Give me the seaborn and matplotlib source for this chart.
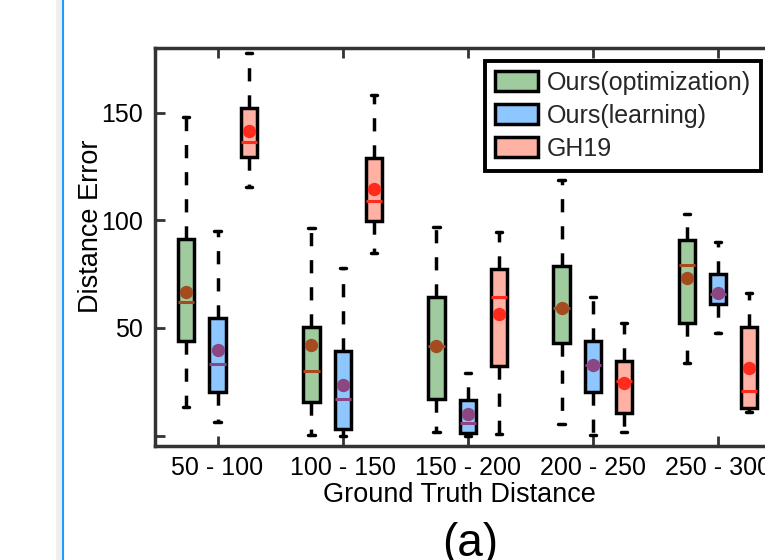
import matplotlib
matplotlib.use("Agg")
import matplotlib.pyplot as plt
from matplotlib.patches import Patch
from matplotlib.lines import Line2D
import pandas as pd
import seaborn as sns

# Distance ranges on the x axis and the compared methods
categories = ["50 - 100", "100 - 150", "150 - 200", "200 - 250", "250 - 300"]
methods = ["Ours(optimization)", "Ours(learning)", "GH19"]

# Box summaries per range: lower whisker, Q1, median, Q3, upper whisker
opt_summary = [
    [13.2, 44.1, 62.2, 91.3, 147.8],
    [0.3, 15.5, 30.0, 50.6, 96.3],
    [1.5, 17.2, 41.6, 64.5, 97.0],
    [5.6, 43.0, 59.1, 78.9, 118.7],
    [33.9, 52.2, 79.4, 90.9, 102.8],
]
learn_summary = [
    [6.2, 20.4, 33.3, 54.8, 95.2],
    [0.0, 3.0, 16.9, 39.5, 77.7],
    [0.0, 1.3, 5.8, 16.6, 29.0],
    [0.2, 20.1, 32.8, 44.1, 64.5],
    [47.5, 61.0, 66.0, 75.0, 89.7],
]
gh19_summary = [
    [115.6, 129.4, 136.5, 152.3, 177.5],
    [84.7, 99.7, 109.1, 128.8, 158.2],
    [1.0, 32.3, 64.2, 77.2, 94.7],
    [1.6, 10.6, 25.5, 34.5, 52.3],
    [11.1, 12.7, 20.9, 50.6, 66.3],
]

# Mean error per range
opt_mean = [66.9, 42.0, 41.6, 59.1, 73.1]
learn_mean = [39.8, 23.5, 10.1, 32.8, 66.2]
gh19_mean = [141.6, 114.5, 56.7, 24.3, 31.5]

box_colors = ["#9fcb9f", "#8ec6ff", "#ffb1a4"]
center_colors = ["#a44b1f", "#8c4682", "#ff2b1c"]

summaries = dict(zip(methods, [opt_summary, learn_summary, gh19_summary]))
means = dict(zip(methods, [opt_mean, learn_mean, gh19_mean]))

box_df = pd.DataFrame(
    [
        {"range": cat, "method": m, "error": v}
        for m in methods
        for cat, five in zip(categories, summaries[m])
        for v in five
    ]
)
mean_df = pd.DataFrame(
    [
        {"range": cat, "method": m, "error": v}
        for m in methods
        for cat, v in zip(categories, means[m])
    ]
)

sns.set_theme(style="ticks")
plt.rcParams["font.family"] = ["Liberation Sans", "DejaVu Sans"]
plt.rcParams["font.size"] = 18

tick_fs = 18
label_fs = 19.5

fig = plt.figure(figsize=(7.65, 5.6), dpi=100)
ax = fig.add_axes([155 / 765, 1 - 446 / 560, 625.5 / 765, 398 / 560])

edge_lw = 2.5
sns.boxplot(
    data=box_df, x="range", y="error", hue="method",
    order=categories, hue_order=methods,
    palette=box_colors, saturation=1,
    width=0.75, gap=0.48, whis=(0, 100),
    linecolor="black", linewidth=edge_lw,
    showfliers=False, legend=False, ax=ax,
    whiskerprops=dict(linestyle=(0, (3.8, 4.0)), linewidth=edge_lw),
    capprops=dict(linewidth=edge_lw),
    medianprops=dict(linewidth=2.2),
    capwidths=0.05,
)

# colour each method's median line
for cont, col in zip(ax.containers, center_colors):
    for med in cont.medians:
        med.set_color(col)
        med.set_zorder(4)

# mean markers
sns.pointplot(
    data=mean_df, x="range", y="error", hue="method",
    order=categories, hue_order=methods,
    palette=center_colors, dodge=0.5, linestyle="none",
    markers="o", markersize=9.6, markeredgewidth=0,
    errorbar=None, legend=False, ax=ax, zorder=6,
)

ax.set_xlim(-0.5, 4.5)
ax.set_ylim(-4.8, 180)
ax.set_yticks([0, 50, 100, 150])
ax.set_yticklabels(["", "50", "100", "150"])
ax.set_xticks(range(len(categories)))
ax.set_xticklabels(categories)

for side in ["left", "right", "top", "bottom"]:
    ax.spines[side].set_visible(True)
    ax.spines[side].set_linewidth(edge_lw)
    ax.spines[side].set_color("#333333")
ax.tick_params(axis="both", direction="in", length=7, width=2, color="#333333",
               labelcolor="black", labelsize=tick_fs, top=True, right=True)
ax.tick_params(axis="y", pad=8.4)
ax.tick_params(axis="x", pad=7.2)

ax.set_xlabel("Ground Truth Distance", fontsize=label_fs, color="black", va="baseline")
ax.xaxis.set_label_coords(0.486, -(502 - 446) / 398)
ax.set_ylabel("Distance Error", fontsize=label_fs, color="black")
ax.yaxis.set_label_coords(-0.0815, 0.553)

handles = [Patch(facecolor=c, edgecolor="black", linewidth=edge_lw) for c in box_colors]
leg = ax.legend(
    handles, methods, loc="upper left", bbox_to_anchor=(0.5276, 0.968),
    frameon=True, fancybox=False, framealpha=1, edgecolor="black",
    fontsize=tick_fs, handlelength=1.7, handleheight=0.88, handletextpad=0.36,
    borderpad=0.4, labelspacing=0.36, borderaxespad=0,
)
leg.get_frame().set_linewidth(2.8)
leg.set_zorder(10)

fig.text(470 / 765, 4 / 560, "(a)", ha="center", va="baseline", fontsize=33, color="black")

# thin vertical rule at the left edge of the panel
fig.add_artist(Line2D([59 / 765, 59 / 765], [0, 1], transform=fig.transFigure,
                      color="#eeeeee", lw=4))
fig.add_artist(Line2D([62.5 / 765, 62.5 / 765], [0, 1], transform=fig.transFigure,
                      color="#1e9bff", lw=1.5))

fig.savefig("out.png", dpi=100)
